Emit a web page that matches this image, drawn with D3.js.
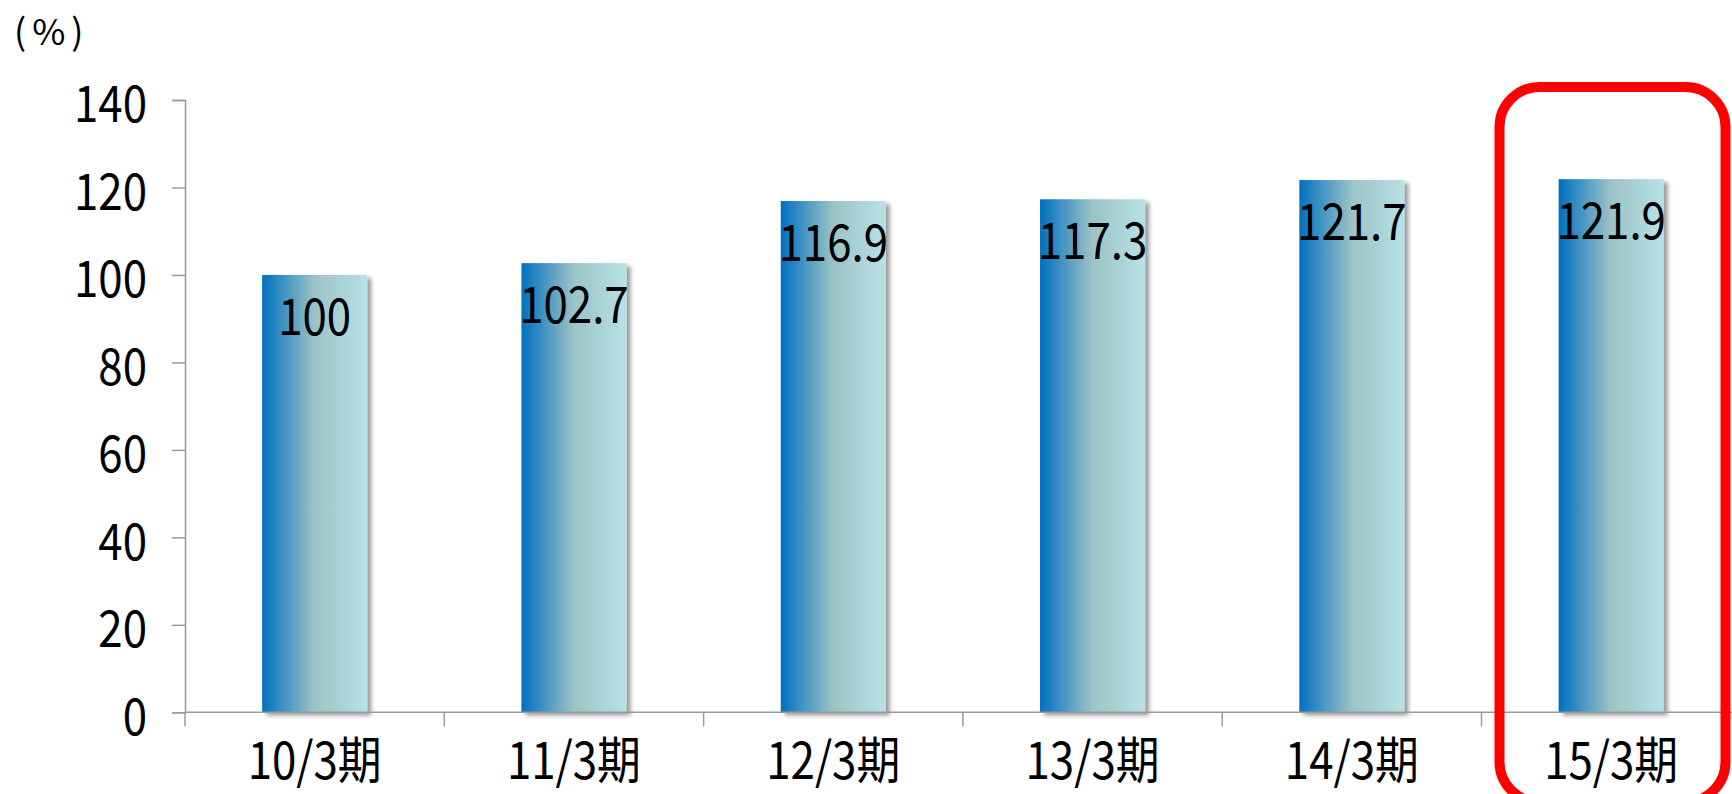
<!DOCTYPE html>
<html>
<head>
<meta charset="utf-8">
<script src="https://cdn.jsdelivr.net/npm/d3@7"></script>
<style>
  html, body { margin: 0; padding: 0; background: #fff; }
  svg { display: block; }
  text { font-family: "Noto Sans CJK JP", "Noto Sans", sans-serif; fill: #000; }
</style>
</head>
<body>
<svg id="chart" width="1732" height="794"></svg>
<script>
// Index values by fiscal period (10/3 period = 100)
const categories = ["10/3期", "11/3期", "12/3期", "13/3期", "14/3期", "15/3期"];
const values = [100, 102.7, 116.9, 117.3, 121.7, 121.9];
const yTicks = [0, 20, 40, 60, 80, 100, 120, 140];
const unitLabel = "(%)";
const highlighted = "15/3期";

const svg = d3.select("#chart");
const W = 1732, H = 794;
const plotLeft = 185, plotTop = 100, plotBottom = 712.3;
const band = 259.3;
const plotRight = plotLeft + band * categories.length;
const squeeze = 0.86;

const defs = svg.append("defs");
const grad = defs.append("linearGradient")
  .attr("id", "barFill").attr("x1", "0%").attr("x2", "100%").attr("y1", "0%").attr("y2", "0%");
grad.append("stop").attr("offset", "0%").attr("stop-color", "#0070C0");
grad.append("stop").attr("offset", "50%").attr("stop-color", "#9CC3C6");
grad.append("stop").attr("offset", "100%").attr("stop-color", "#B8E2E6");

const shadow = defs.append("filter").attr("id", "barShadow")
  .attr("x", "-10%").attr("y", "-10%").attr("width", "130%").attr("height", "120%");
shadow.append("feDropShadow").attr("dx", 4).attr("dy", 3).attr("stdDeviation", 2)
  .attr("flood-color", "#000").attr("flood-opacity", 0.4);

const x = d3.scaleBand().domain(categories).range([plotLeft, plotRight]).paddingInner(0.595).paddingOuter(0.2975);
const xb = d3.scaleBand().domain(categories).range([plotLeft, plotRight]);
const y = d3.scaleLinear().domain([0, 140]).range([plotBottom, plotTop]);

// Bars
svg.append("g").selectAll("rect").data(categories).join("rect")
  .attr("x", d => x(d))
  .attr("y", (d, i) => y(values[i]))
  .attr("width", x.bandwidth())
  .attr("height", (d, i) => y(0) - y(values[i]))
  .attr("fill", "url(#barFill)")
  .attr("filter", "url(#barShadow)");

// Y axis
const yAxis = svg.append("g").attr("transform", `translate(${plotLeft},0)`)
  .call(d3.axisLeft(y).tickValues(yTicks).tickSize(13).tickPadding(0).tickFormat(d3.format("d")));
yAxis.select(".domain").attr("stroke", "#9a9a9a").attr("stroke-width", 1.5);
yAxis.selectAll(".tick line").attr("stroke", "#9a9a9a").attr("stroke-width", 1.5);
yAxis.selectAll(".tick text").remove();
yAxis.selectAll(".tick").append("text")
  .attr("transform", `translate(-38,0) scale(${squeeze},1)`)
  .attr("text-anchor", "end")
  .attr("dominant-baseline", "central")
  .attr("font-size", 51)
  .text(d => d);

// X axis
const xAxis = svg.append("g").attr("transform", `translate(0,${plotBottom})`)
  .call(d3.axisBottom(xb).tickSize(0).tickFormat(""));
xAxis.select(".domain").attr("stroke", "#9a9a9a").attr("stroke-width", 1.5).attr("d", `M${plotLeft},0H${W}`);
xAxis.selectAll(".tick").remove();
xAxis.append("g").selectAll("line").data(categories).join("line")
  .attr("x1", d => xb(d)).attr("x2", d => xb(d))
  .attr("y1", 0).attr("y2", 14)
  .attr("stroke", "#9a9a9a").attr("stroke-width", 1.5);

// Category labels
svg.append("g").selectAll("text").data(categories).join("text")
  .attr("transform", d => `translate(${xb(d) + xb.bandwidth() / 2},779) scale(${squeeze},1)`)
  .attr("text-anchor", "middle")
  .attr("font-size", 51)
  .text(d => d);

// Value labels inside the bars
svg.append("g").selectAll("text").data(categories).join("text")
  .attr("transform", (d, i) => `translate(${x(d) + x.bandwidth() / 2},${y(values[i]) + 60}) scale(${squeeze},1)`)
  .attr("text-anchor", "middle")
  .attr("font-size", 51)
  .text((d, i) => values[i]);

// Unit label
svg.append("text").attr("x", 14).attr("y", 45).attr("font-size", 36)
  .attr("letter-spacing", 6).text(unitLabel);

// Highlight frame around the latest period
const hx = xb(highlighted);
svg.append("rect")
  .attr("x", hx + 18).attr("y", 87)
  .attr("width", 226).attr("height", 715)
  .attr("rx", 40).attr("ry", 40)
  .attr("fill", "none").attr("stroke", "#FF0000").attr("stroke-width", 10);
</script>
</body>
</html>
